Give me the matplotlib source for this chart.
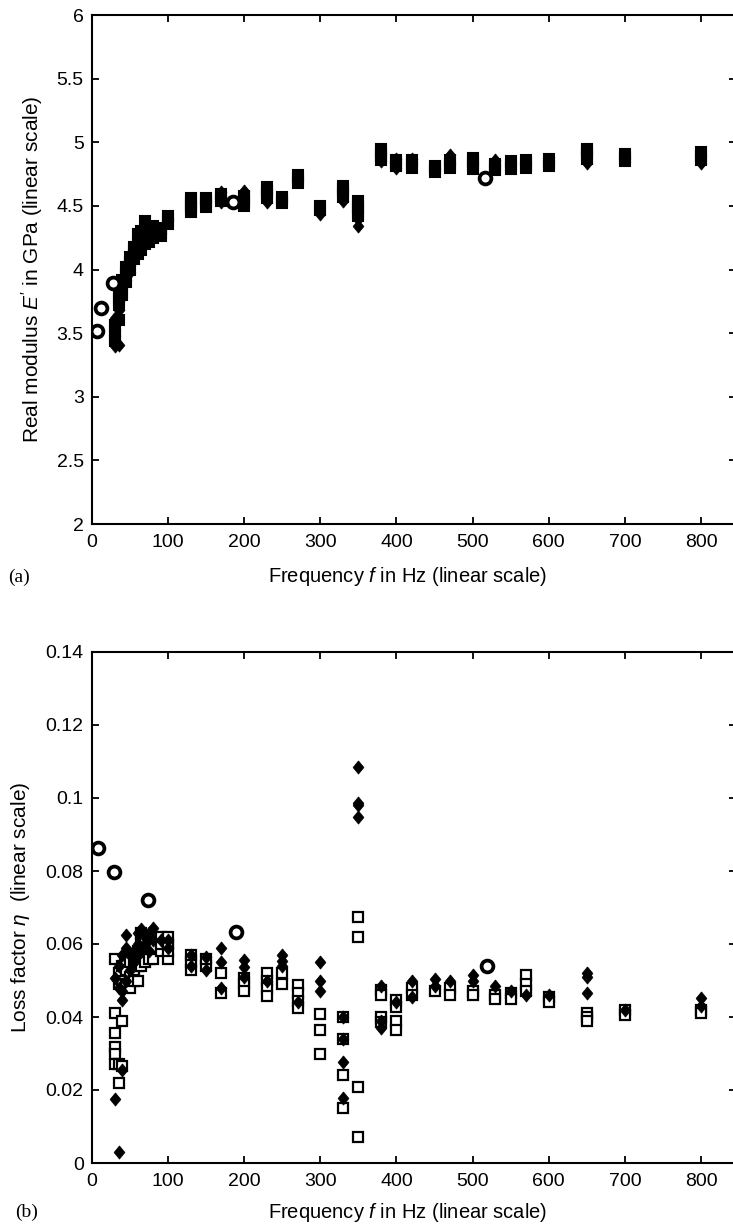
import matplotlib
matplotlib.use("Agg")
import matplotlib.pyplot as plt
from matplotlib.ticker import MultipleLocator, FormatStrFormatter, FuncFormatter

plt.rcParams["font.family"] = ["Liberation Sans", "DejaVu Sans"]
plt.rcParams["mathtext.fontset"] = "custom"
plt.rcParams["mathtext.it"] = "Liberation Sans:italic"
plt.rcParams["mathtext.rm"] = "Liberation Sans"

# ---- data ----
freqs = [30, 35, 40, 45, 50, 55, 60, 65, 70, 75, 80, 90, 100, 130, 150, 170,
         200, 230, 250, 270, 300, 330, 350, 380, 400, 420, 450, 470, 500, 530,
         550, 570, 600, 650, 700, 800]

# (a) real modulus E' in GPa
E_sq = [[3.56, 3.52, 3.48, 3.44], [3.60, 3.72, 3.77, 3.82], [3.80, 3.85, 3.88, 3.92],
        [3.90, 3.95, 3.98, 4.02], [4.00, 4.04, 4.07, 4.10], [4.08, 4.12, 4.15, 4.18],
        [4.12, 4.18, 4.22, 4.28], [4.15, 4.20, 4.25, 4.30], [4.20, 4.25, 4.30, 4.38],
        [4.22, 4.27, 4.32], [4.25, 4.30, 4.34], [4.26, 4.29, 4.33], [4.36, 4.39, 4.42],
        [4.45, 4.48, 4.51, 4.54, 4.56], [4.49, 4.52, 4.55, 4.56], [4.54, 4.57, 4.59],
        [4.50, 4.53, 4.56, 4.58], [4.56, 4.59, 4.62, 4.65], [4.52, 4.55, 4.57],
        [4.68, 4.71, 4.74], [4.47, 4.50], [4.57, 4.60, 4.63, 4.66],
        [4.42, 4.45, 4.48, 4.51, 4.54], [4.86, 4.89, 4.92, 4.95], [4.81, 4.84, 4.86],
        [4.80, 4.83, 4.86], [4.77, 4.80, 4.81], [4.80, 4.83, 4.86], [4.79, 4.82, 4.85, 4.88],
        [4.78, 4.81, 4.83], [4.79, 4.82, 4.85], [4.80, 4.83, 4.86], [4.81, 4.84, 4.87],
        [4.87, 4.90, 4.93, 4.95], [4.85, 4.88, 4.91], [4.86, 4.89, 4.92]]
E_dia = [[3.62, 3.40], [3.41, 3.68], [3.78], [3.92], [3.98], [4.10], [4.20], [4.26],
         [4.33, 4.28], [4.30], [4.33], [4.28], [4.40], [], [], [4.53, 4.61],
         [4.62], [4.53], [], [], [4.44], [4.54], [4.34, 4.40], [4.85], [4.80, 4.87],
         [4.87], [], [4.90], [], [4.86], [], [], [], [4.84], [], [4.84]]
E_ref_f = [7, 12, 27, 185, 516]
E_ref = [3.52, 3.70, 3.89, 4.53, 4.72]

# (b) loss factor eta
eta_sq = [[0.056, 0.041, 0.0355, 0.0318, 0.030, 0.027], [0.022, 0.027, 0.052, 0.049],
          [0.039, 0.0265, 0.050, 0.054], [0.049, 0.053, 0.0556], [0.048, 0.051, 0.055],
          [0.050, 0.053, 0.056], [0.050, 0.054, 0.058], [0.054, 0.057, 0.060, 0.063],
          [0.055, 0.058, 0.061], [0.056, 0.059, 0.061], [0.056, 0.059, 0.062],
          [0.058, 0.060, 0.062], [0.056, 0.058, 0.060, 0.062], [0.053, 0.055, 0.057],
          [0.054, 0.056], [0.052, 0.0466], [0.0507, 0.049, 0.047],
          [0.052, 0.050, 0.048, 0.0458], [0.052, 0.049], [0.0488, 0.0465, 0.0445, 0.0425],
          [0.0408, 0.0364, 0.030], [0.040, 0.034, 0.0241, 0.015],
          [0.0674, 0.062, 0.0208, 0.0071], [0.0475, 0.046, 0.040, 0.0385],
          [0.0447, 0.0428, 0.039, 0.0365], [0.048, 0.046], [0.047], [0.048, 0.046],
          [0.047, 0.046], [0.046, 0.045], [0.0465, 0.045], [0.0515, 0.049, 0.047],
          [0.0455, 0.044], [0.0412, 0.040, 0.039], [0.042, 0.0405], [0.042, 0.041]]
eta_dia = [[0.0507, 0.0175], [0.003, 0.048, 0.054], [0.0255, 0.0447, 0.047, 0.057],
           [0.0625, 0.059, 0.050], [0.053, 0.057], [0.055, 0.058], [0.057, 0.060, 0.063],
           [0.064, 0.059], [0.060, 0.062], [0.063, 0.058], [0.0645, 0.061], [0.061],
           [0.061, 0.059], [0.054, 0.057], [0.053, 0.0565], [0.059, 0.055, 0.048],
           [0.0556, 0.0537, 0.051], [0.050], [0.057, 0.0553, 0.054], [0.044],
           [0.055, 0.050, 0.047], [0.040, 0.034, 0.0277, 0.0178],
           [0.1085, 0.0986, 0.0980, 0.0948], [0.0485, 0.039, 0.037], [0.044],
           [0.050, 0.0455], [0.0504, 0.0485], [0.050], [0.0515, 0.050], [0.0485],
           [0.047], [0.046], [0.046], [0.052, 0.051, 0.0466], [0.042], [0.0452, 0.043]]
eta_ref_f = [8, 29, 74, 189, 519]
eta_ref = [0.0863, 0.0797, 0.072, 0.0633, 0.054]

DIAMOND = [(0, 1), (0.82, 0), (0, -1), (-0.82, 0), (0, 1)]


def flat(vals):
    xs, ys = [], []
    for f, vs in zip(freqs, vals):
        xs += [f] * len(vs)
        ys += vs
    return xs, ys


W, H = 733, 1226
fig = plt.figure(figsize=(W / 100, H / 100), dpi=100)
fig.patch.set_facecolor("white")


def make_axes(top_px, bot_px):
    left, right = 92, 736
    return fig.add_axes([left / W, 1 - bot_px / H, (right - left) / W, (bot_px - top_px) / H])


ax1 = make_axes(15, 524)
ax2 = make_axes(652, 1163)

# (a)
x, y = flat(E_sq)
ax1.plot(x, y, ls="none", marker="s", ms=7, mfc="black", mec="black", mew=1.5, zorder=3)
x, y = flat(E_dia)
ax1.plot(x, y, ls="none", marker=DIAMOND, ms=9.5, mfc="black", mec="black", mew=0.5, zorder=4)
ax1.plot(E_ref_f, E_ref, ls="none", marker="o", ms=8.5, mfc="white", mec="black", mew=2.7, zorder=5)
ax1.set_ylim(2, 6)
ax1.yaxis.set_major_locator(MultipleLocator(0.5))

# (b)
x, y = flat(eta_sq)
ax2.plot(x, y, ls="none", marker="s", ms=7, mfc="white", mec="black", mew=1.6, zorder=3)
x, y = flat(eta_dia)
ax2.plot(x, y, ls="none", marker=DIAMOND, ms=9.5, mfc="black", mec="black", mew=0.5, zorder=4)
ax2.plot(eta_ref_f, eta_ref, ls="none", marker="o", ms=8.5, mfc="white", mec="black", mew=2.7, zorder=5)
ax2.set_ylim(0, 0.14)
ax2.yaxis.set_major_locator(MultipleLocator(0.02))

fmt = FuncFormatter(lambda v, p: "%g" % round(v, 4))
for ax in (ax1, ax2):
    ax.set_xlim(0, 846)
    ax.xaxis.set_major_locator(MultipleLocator(100))
    ax.xaxis.set_major_formatter(FormatStrFormatter("%d"))
    ax.yaxis.set_major_formatter(fmt)
    ax.tick_params(direction="in", length=5, width=1.3, labelsize=14,
                   top=True, right=True)
    ax.tick_params(axis="x", pad=7)
    ax.tick_params(axis="y", pad=6)
    for s in ax.spines.values():
        s.set_linewidth(1.5)
    ax.set_xlabel(r"Frequency $f$ in Hz (linear scale)", fontsize=14.5, va="center")

ax1.xaxis.set_label_coords(0.49, -0.104)
ax2.xaxis.set_label_coords(0.49, -0.096)
ax1.set_ylabel(r"Real modulus $E^{\prime}$ in GPa (linear scale)", fontsize=15, va="center")
ax1.yaxis.set_label_coords((32 - 92) / 644, 0.5)
ax2.set_ylabel(r"Loss factor $\eta$  (linear scale)", fontsize=15, va="center")
ax2.yaxis.set_label_coords((20 - 92) / 644, 0.5)

fig.text(8 / W, 1 - 577 / H, "(a)", family="Liberation Serif", fontsize=14, va="center")
fig.text(15 / W, 1 - 1212 / H, "(b)", family="Liberation Serif", fontsize=14, va="center")

fig.savefig("out.png", dpi=100, facecolor="white")
